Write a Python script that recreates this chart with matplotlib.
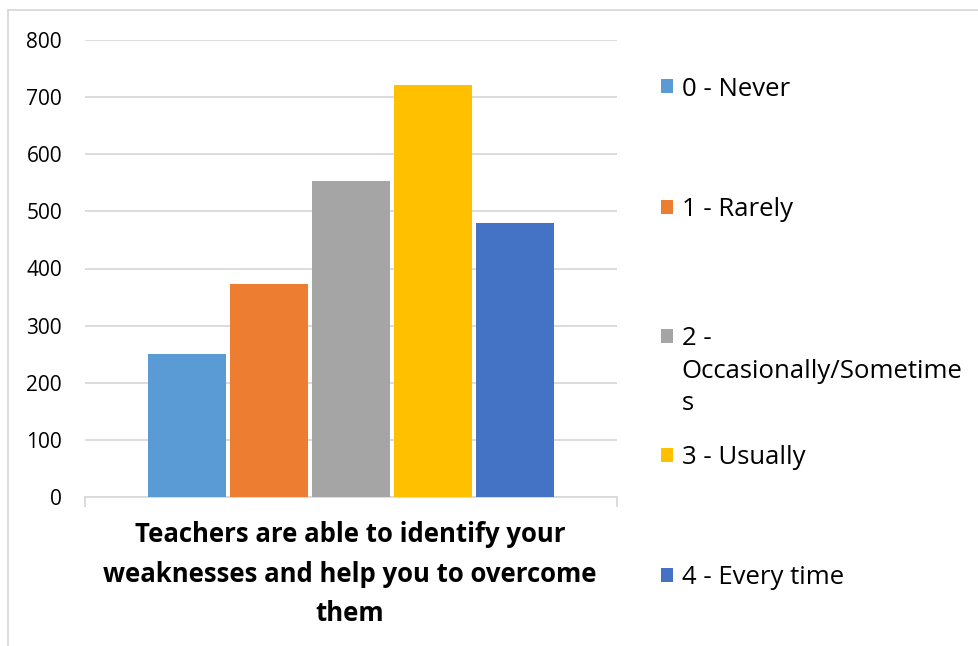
import matplotlib.pyplot as plt
from matplotlib.patches import Rectangle
from matplotlib.legend_handler import HandlerPatch

# survey answers
categories = ["0 - Never", "1 - Rarely", "2 -\nOccasionally/Sometime\ns", "3 - Usually", "4 - Every time"]
counts = [250, 372, 554, 721, 479]
colors = ["#5B9BD5", "#ED7D31", "#A5A5A5", "#FFC000", "#4472C4"]
question = "Teachers are able to identify your\nweaknesses and help you to overcome\nthem"
yticks = [0, 100, 200, 300, 400, 500, 600, 700, 800]

plt.rcParams['font.family'] = ['Open Sans', 'DejaVu Sans']

W, H = 979, 646
fig = plt.figure(figsize=(W / 100, H / 100), dpi=100)
ax = fig.add_axes([85 / W, 1 - 497 / H, 532 / W, 457 / H])

# outer chart frame
fig.patches.append(Rectangle((8 / W, -0.01), 1.0, 1 - 10 / H + 0.01, transform=fig.transFigure,
                             fill=False, edgecolor="#d9d9d9", linewidth=1.3))

step = 0.154
width = 0.147
offsets = [(i - 2) * step for i in range(len(counts))]
bars = []
for off, c, col, lab in zip(offsets, counts, colors, categories):
    bars.append(ax.bar(off, c, width=width, color=col, label=lab, zorder=3))

ax.set_xlim(-0.5, 0.5)
ax.set_ylim(0, 800)
ax.set_yticks(yticks)
ax.tick_params(axis='y', length=0, labelsize=15, pad=16.5)
ax.grid(axis='y', color="#d9d9d9", linewidth=1.3, zorder=0)
for s in ['top', 'right', 'left']:
    ax.spines[s].set_visible(False)
ax.spines['bottom'].set_color("#d9d9d9")
ax.spines['bottom'].set_linewidth(1.3)
ax.set_xticks([-0.5, 0.5])
ax.set_xticklabels(["", ""])
ax.tick_params(axis='x', length=7, color="#d9d9d9", width=1.3)

fig.text(350 / W, 1 - 521 / H, question, ha='center', va='top', fontsize=18.5,
         fontweight='bold', linespacing=1.6)

# legend: one box per entry, square next to the first line of each label
leg_fs = 18.5
line_sp = 1.38
centers = [89, 210, 371, 458, 578]


def make_handler(nlines):
    def square(legend, orig_handle, xdescent, ydescent, width, height, fontsize):
        shift = (nlines - 1) * line_sp * fontsize / 2
        return Rectangle((-xdescent, -ydescent + shift), width, height)
    return HandlerPatch(patch_func=square)


for b, lab, yc in zip(bars, categories, centers):
    nl = lab.count("\n") + 1
    leg = fig.legend([b.patches[0]], [lab], loc='center left',
                     bbox_to_anchor=(661 / W, 1 - yc / H), frameon=False, fontsize=leg_fs,
                     handlelength=0.47, handleheight=0.47, handletextpad=0.33,
                     borderpad=0, borderaxespad=0,
                     handler_map={b.patches[0]: make_handler(nl)})
    for t in leg.get_texts():
        t.set_linespacing(line_sp)

fig.savefig("out.png", dpi=100)
